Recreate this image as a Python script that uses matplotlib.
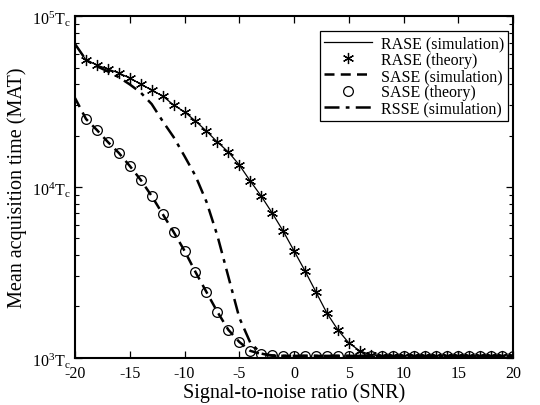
import numpy as np
import matplotlib
matplotlib.use('Agg')
import matplotlib.pyplot as plt
from matplotlib.ticker import LogLocator, NullFormatter, FixedLocator

plt.rcParams['font.family'] = 'Liberation Serif'
plt.rcParams['mathtext.fontset'] = 'custom'
plt.rcParams['mathtext.rm'] = 'Liberation Serif'
plt.rcParams['mathtext.it'] = 'Liberation Serif:italic'
plt.rcParams['axes.unicode_minus'] = False

# SNR grid (dB)
snr_sim = [-20, -19, -18, -17, -16, -15, -14, -13, -12, -11, -10, -9, -8, -7, -6, -5, -4, -3, -2, -1,
           0, 1, 2, 3, 4, 5, 6, 7, 8, 9, 10, 11, 12, 13, 14, 15, 16, 17, 18, 19, 20]
snr_theory = snr_sim[1:]

# mean acquisition time in units of Tc
rase_sim = [68550, 55340, 51640, 48980, 46450, 43350, 39990, 36900, 34040, 30200, 27480, 24320,
            21230, 18320, 16030, 13460, 10840, 8850, 7050, 5530, 4230, 3230, 2430, 1830, 1460,
            1225, 1100, 1042, 1028, 1028, 1028, 1028, 1028, 1028, 1028, 1028, 1028, 1028, 1028,
            1028, 1028]
rase_theory = rase_sim[1:]

sase_sim = [33110, 25000, 21530, 18320, 15810, 13270, 10990, 8850, 6950, 5460, 4230, 3180,
            2430, 1860, 1460, 1240, 1100, 1054, 1035, 1028, 1028, 1028, 1028, 1028, 1028,
            1028, 1028, 1028, 1028, 1028, 1028, 1028, 1028, 1028, 1028, 1028, 1028, 1028, 1028,
            1028, 1028]
sase_theory = sase_sim[1:]

rsse_sim = [68550, 55340, 50820, 47420, 43850, 39810, 35650, 30550, 24270, 19590, 15140, 11610,
            8200, 5190, 2990, 1720, 1230, 1060, 1030, 1028, 1028, 1028, 1028, 1028, 1028,
            1028, 1028, 1028, 1028, 1028, 1028, 1028, 1028, 1028, 1028, 1028, 1028, 1028, 1028,
            1028, 1028]

fig = plt.figure(figsize=(5.4, 4.06), dpi=100)
ax = fig.add_axes([0.139, 0.116, 0.811, 0.842])

ax.semilogy(snr_sim, rase_sim, '-', color='k', lw=0.9, label='RASE (simulation)')
ax.semilogy(snr_theory, rase_theory, linestyle='none', marker=(6, 2, 0), ms=8, mew=0.9,
            color='k', label='RASE (theory)')
ax.semilogy(snr_sim, sase_sim, '--', color='k', lw=1.8, dashes=(4, 2.5), label='SASE (simulation)')
ax.semilogy(snr_theory, sase_theory, linestyle='none', marker='o', ms=7, mew=0.9,
            mfc='none', color='k', label='SASE (theory)')
ax.semilogy(snr_sim, rsse_sim, color='k', lw=1.8, dashes=(6, 2.5, 1.5, 2.5), label='RSSE (simulation)')

ax.set_xlim(-20, 20)
ax.set_ylim(1e3, 1e5)
ax.set_xticks([-20, -15, -10, -5, 0, 5, 10, 15, 20])
ax.yaxis.set_major_locator(FixedLocator([1e3, 1e4, 1e5]))
ax.set_yticklabels([r'$\mathregular{10^3T_c}$', r'$\mathregular{10^4T_c}$', r'$\mathregular{10^5T_c}$'])
ax.yaxis.set_minor_locator(LogLocator(base=10, subs=np.arange(2, 10)))
ax.yaxis.set_minor_formatter(NullFormatter())
ax.tick_params(which='both', direction='in', top=True, right=True, labelsize=11.5)
ax.tick_params(which='major', length=5, width=0.9)
ax.tick_params(which='minor', length=3, width=0.8)
ax.tick_params(axis='x', pad=5)
ax.tick_params(axis='y', pad=3)
for s in ax.spines.values():
    s.set_linewidth(1.5)

ax.set_xlabel('Signal-to-noise ratio (SNR)', fontsize=14.5, labelpad=1)
ax.set_ylabel('Mean acquisition time (MAT)', fontsize=14.5, labelpad=4)

leg = ax.legend(loc='upper right', bbox_to_anchor=(0.988, 0.955), borderaxespad=0,
                fontsize=11.5, handlelength=3.0, handletextpad=0.55, labelspacing=0.02,
                fancybox=False, framealpha=1, edgecolor='k', borderpad=0.25)
leg.get_frame().set_linewidth(0.9)

fig.savefig('out.png', dpi=100)
